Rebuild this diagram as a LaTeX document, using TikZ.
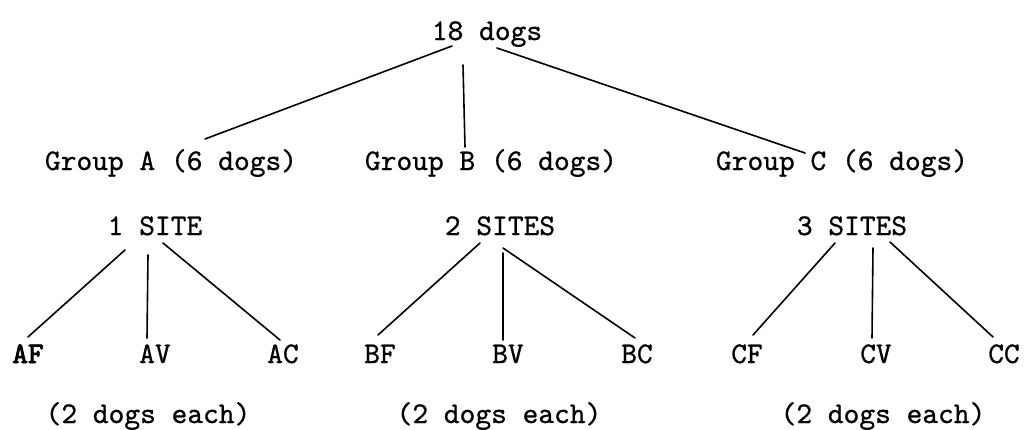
\documentclass[tikz,border=0pt]{standalone}
\usepackage{fontspec}
\newfontfamily\ttreg{lmmono10-regular.otf}[FakeBold=0.8]
\newfontfamily\ttbold{lmmono10-regular.otf}[FakeBold=2.6]
\begin{document}
\begin{tikzpicture}[x=1pt,y=-1pt,
  lbl/.style={inner sep=0pt,anchor=base,font=\ttreg\fontsize{30}{32}\selectfont},
  boldlbl/.style={lbl,font=\ttbold\fontsize{30}{32}\selectfont},
  conn/.style={line width=1.6pt,line cap=round,black}]
\useasboundingbox (0,0) rectangle (1026,429);
% nodes
\node[lbl] (top) at (487,40) {18 dogs};
\node[lbl] (gA) at (171,170) {Group A (6 dogs)};
\node[lbl] (gB) at (491,170) {Group B (6 dogs)};
\node[lbl] (gC) at (842,170) {Group C (6 dogs)};
\node[lbl] (sA) at (155,235) {1 SITE};
\node[lbl] (sB) at (500,235) {2 SITES};
\node[lbl] (sC) at (852,235) {3 SITES};
\node[boldlbl] (AF) at (28,363) {AF};
\node[lbl] (AV) at (155,363) {AV};
\node[lbl] (AC) at (283,363) {AC};
\node[lbl] (BF) at (380,363) {BF};
\node[lbl] (BV) at (508,363) {BV};
\node[lbl] (BC) at (637,363) {BC};
\node[lbl] (CF) at (747,363) {CF};
\node[lbl] (CV) at (876,363) {CV};
\node[lbl] (CC) at (1004,363) {CC};
\node[lbl] (eA) at (148,423) {(2 dogs each)};
\node[lbl] (eB) at (499,423) {(2 dogs each)};
\node[lbl] (eC) at (883,423) {(2 dogs each)};
% connectors
\draw[conn] ([shift={(-35,6)}]top.base) -- ([shift={(34,-31)}]gA.base);
\draw[conn] ([shift={(-24,25)}]top.base) -- ([shift={(-26,-23)}]gB.base);
\draw[conn] ([shift={(10,8)}]top.base) -- ([shift={(-37,-17)}]gC.base);
\draw[conn] ([shift={(-30,15)}]sA.base) -- ([shift={(0,-26)}]AF.base);
\draw[conn] ([shift={(-7,20)}]sA.base) -- ([shift={(-8,-25)}]AV.base);
\draw[conn] ([shift={(8,8)}]sA.base) -- ([shift={(-3,-23)}]AC.base);
\draw[conn] ([shift={(-20,8)}]sB.base) -- ([shift={(-2,-28)}]BF.base);
\draw[conn] ([shift={(3,18)}]sB.base) -- ([shift={(-5,-23)}]BV.base);
\draw[conn] ([shift={(3,13)}]sB.base) -- ([shift={(-2,-25)}]BC.base);
\draw[conn] ([shift={(-17,8)}]sC.base) -- ([shift={(6,-28)}]CF.base);
\draw[conn] ([shift={(21,13)}]sC.base) -- ([shift={(-4,-25)}]CV.base);
\draw[conn] ([shift={(38,7)}]sC.base) -- ([shift={(-11,-26)}]CC.base);
\end{tikzpicture}
\end{document}
